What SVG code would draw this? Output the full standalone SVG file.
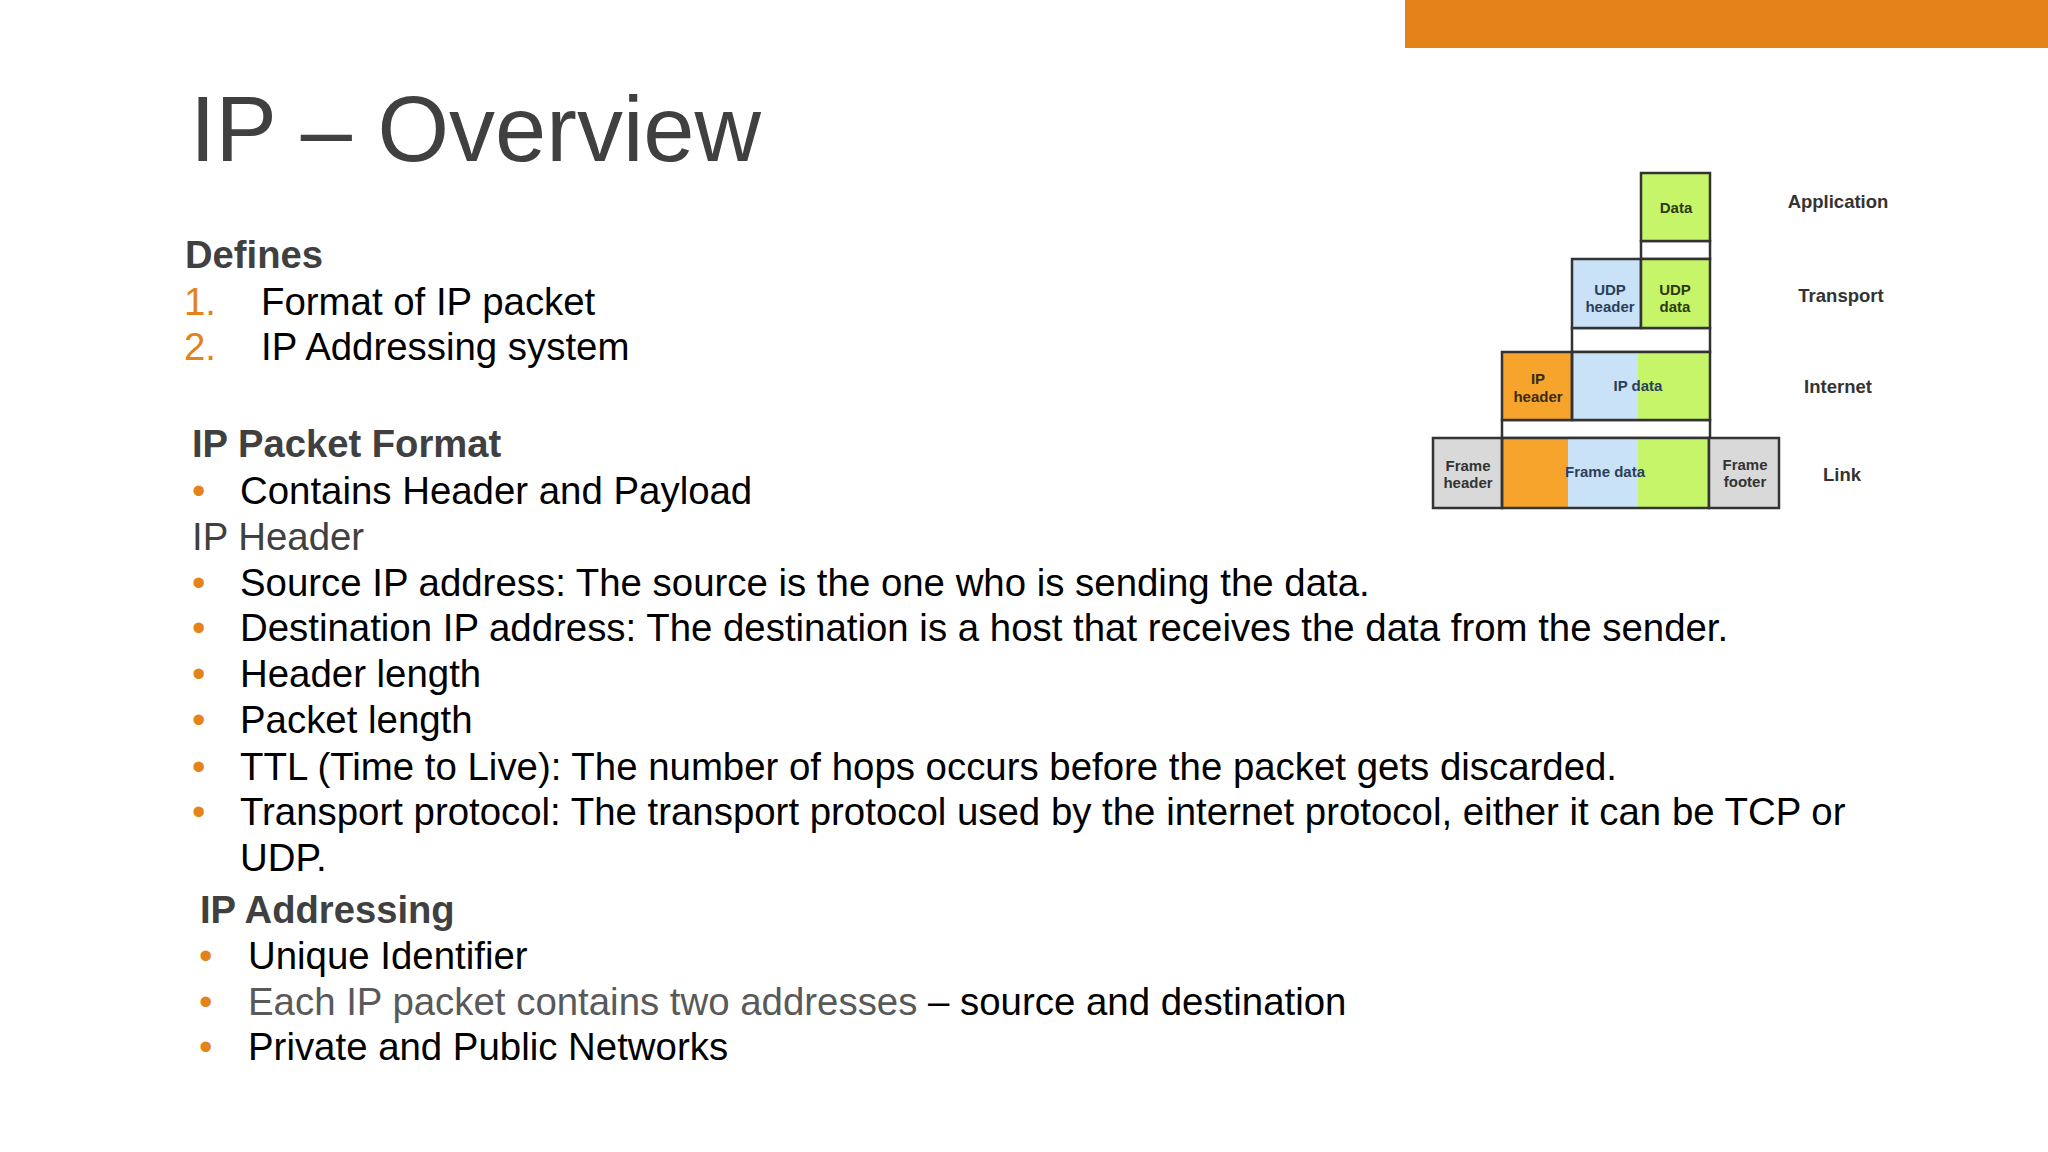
<svg xmlns="http://www.w3.org/2000/svg" width="2048" height="1152" viewBox="0 0 2048 1152">
<style>
text{font-family:"Liberation Sans",Arial,sans-serif}
.b{font-size:38.4px;fill:#000}
.h{font-size:38.2px;font-weight:bold;fill:#404040}
.o{font-size:38.4px;fill:#E3831A}
.d{font-size:15px;font-weight:bold;text-anchor:middle}
.l{font-size:18.5px;font-weight:bold;fill:#333;text-anchor:middle}
.bx{stroke:#333;stroke-width:2.5}
</style>
<rect width="2048" height="1152" fill="#fff"/>
<rect x="1405" y="0" width="643" height="48" fill="#E3831A"/>
<text x="190" y="161" font-size="92" fill="#404040">IP – Overview</text>
<g id="text">
<text class="h" x="185" y="268">Defines</text>
<text class="o" x="184" y="315">1.</text><text class="b" x="261" y="315">Format of IP packet</text>
<text class="o" x="184" y="360">2.</text><text class="b" x="261" y="360">IP Addressing system</text>
<text class="h" x="192" y="457">IP Packet Format</text>
<text class="o" x="192" y="504">•</text><text class="b" x="240" y="504">Contains Header and Payload</text>
<text class="b" x="192" y="550" style="fill:#404040">IP Header</text>
<text class="o" x="192" y="596">•</text><text class="b" x="240" y="596">Source IP address: The source is the one who is sending the data.</text>
<text class="o" x="192" y="641">•</text><text class="b" x="240" y="641">Destination IP address: The destination is a host that receives the data from the sender.</text>
<text class="o" x="192" y="687">•</text><text class="b" x="240" y="687">Header length</text>
<text class="o" x="192" y="733">•</text><text class="b" x="240" y="733">Packet length</text>
<text class="o" x="192" y="780">•</text><text class="b" x="240" y="780">TTL (Time to Live): The number of hops occurs before the packet gets discarded.</text>
<text class="o" x="192" y="825">•</text><text class="b" x="240" y="825">Transport protocol: The transport protocol used by the internet protocol, either it can be TCP or</text>
<text class="b" x="240" y="871">UDP.</text>
<text class="h" x="200" y="923">IP Addressing</text>
<text class="o" x="199" y="969">•</text><text class="b" x="248" y="969">Unique Identifier</text>
<text class="o" x="199" y="1015">•</text><text class="b" x="248" y="1015"><tspan style="fill:#595959">Each IP packet contains two addresses</tspan> – source and destination</text>
<text class="o" x="199" y="1060">•</text><text class="b" x="248" y="1060">Private and Public Networks</text>
</g>
<g id="stack">
<rect x="1641" y="241" width="69" height="18" fill="#fff" class="bx"/>
<rect x="1572" y="328" width="138" height="24" fill="#fff" class="bx"/>
<rect x="1502" y="420" width="208" height="18" fill="#fff" class="bx"/>
<g id="app"><rect x="1641" y="173" width="69" height="68" fill="#C6F56A" class="bx"/><text class="d" x="1676" y="213" fill="#2d3a10">Data</text></g>
<g id="udp">
<rect x="1572" y="259" width="69" height="69" fill="#C9E2F8" class="bx"/>
<rect x="1641" y="259" width="69" height="69" fill="#C6F56A" class="bx"/>
<text class="d" x="1610" y="295" fill="#2b3f5a">UDP</text><text class="d" x="1610" y="312" fill="#2b3f5a">header</text>
<text class="d" x="1675" y="295" fill="#2d3a10">UDP</text><text class="d" x="1675" y="312" fill="#2d3a10">data</text>
</g>
<g id="ip">
<rect x="1572" y="352" width="66" height="68" fill="#C9E2F8"/>
<rect x="1638" y="352" width="72" height="68" fill="#C6F56A"/>
<rect x="1502" y="352" width="70" height="68" fill="#F7A42C" class="bx"/>
<rect x="1572" y="352" width="138" height="68" fill="none" class="bx"/>
<text class="d" x="1538" y="384" fill="#3a2a10">IP</text><text class="d" x="1538" y="402" fill="#3a2a10">header</text>
<text class="d" x="1638" y="391" fill="#2b3f5a">IP data</text>
</g>
<g id="link">
<rect x="1502" y="438" width="66" height="70" fill="#F7A42C"/>
<rect x="1568" y="438" width="70" height="70" fill="#C9E2F8"/>
<rect x="1638" y="438" width="71" height="70" fill="#C6F56A"/>
<rect x="1433" y="438" width="69" height="70" fill="#D9D9D9" class="bx"/>
<rect x="1502" y="438" width="207" height="70" fill="none" class="bx"/>
<rect x="1709" y="438" width="70" height="70" fill="#D9D9D9" class="bx"/>
<text class="d" x="1468" y="471" fill="#333">Frame</text><text class="d" x="1468" y="488" fill="#333">header</text>
<text class="d" x="1605" y="477" fill="#2b3f5a">Frame data</text>
<text class="d" x="1745" y="470" fill="#333">Frame</text><text class="d" x="1745" y="487" fill="#333">footer</text>
</g>
<text class="l" x="1838" y="208">Application</text>
<text class="l" x="1841" y="302">Transport</text>
<text class="l" x="1838" y="393">Internet</text>
<text class="l" x="1842" y="481">Link</text>
</g>
</svg>
